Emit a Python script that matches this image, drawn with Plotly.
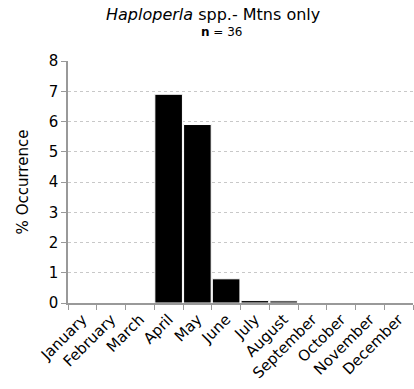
import plotly.graph_objects as go

months = ["January", "February", "March", "April", "May", "June", "July",
          "August", "September", "October", "November", "December"]
values = [0, 0, 0, 6.9, 5.9, 0.8, 0.08, 0.07, 0, 0, 0, 0]
yticks = [0, 1, 2, 3, 4, 5, 6, 7, 8]

fig = go.Figure()
fig.add_trace(go.Bar(
    x=months, y=values,
    marker=dict(color="black", line=dict(color="white", width=1)),
))

font = "Verdana, DejaVu Sans, sans-serif"
fig.update_layout(
    width=414, height=389,
    margin=dict(l=68, r=1, t=61, b=86),
    paper_bgcolor="white", plot_bgcolor="white",
    bargap=0.04,
    showlegend=False,
    font=dict(family=font, color="black", size=14),
    annotations=[
        dict(text="<i>Haploperla</i> spp.- Mtns only", xref="paper", yref="paper",
             x=0.419, y=1, yshift=47, xanchor="center", yanchor="middle",
             showarrow=False, font=dict(size=16, family=font, color="black")),
        dict(text="<b>n</b> = 36", xref="paper", yref="paper",
             x=0.445, y=1, yshift=29, xanchor="center", yanchor="middle",
             showarrow=False, font=dict(size=12, family=font, color="black")),
    ],
    xaxis=dict(
        type="category", tickangle=-45, tickson="boundaries",
        ticks="outside", ticklen=5, tickcolor="#999999",
        showline=True, linecolor="#999999", linewidth=1.5,
        showgrid=False, tickfont=dict(size=15, family=font),
        automargin=False,
    ),
    yaxis=dict(
        range=[0, 8], tickvals=yticks,
        ticks="outside", ticklen=5, tickcolor="#999999",
        showline=True, linecolor="#999999", linewidth=1.5,
        showgrid=True, gridcolor="#c8c8c8", griddash="dot", gridwidth=1,
        zeroline=False, automargin=False,
        title=dict(text="% Occurrence", font=dict(size=15, family=font), standoff=16),
        tickfont=dict(size=15, family=font),
    ),
)

fig.write_html("out.html", config={"displayModeBar": False},
               post_script="document.body.style.margin='0';")
